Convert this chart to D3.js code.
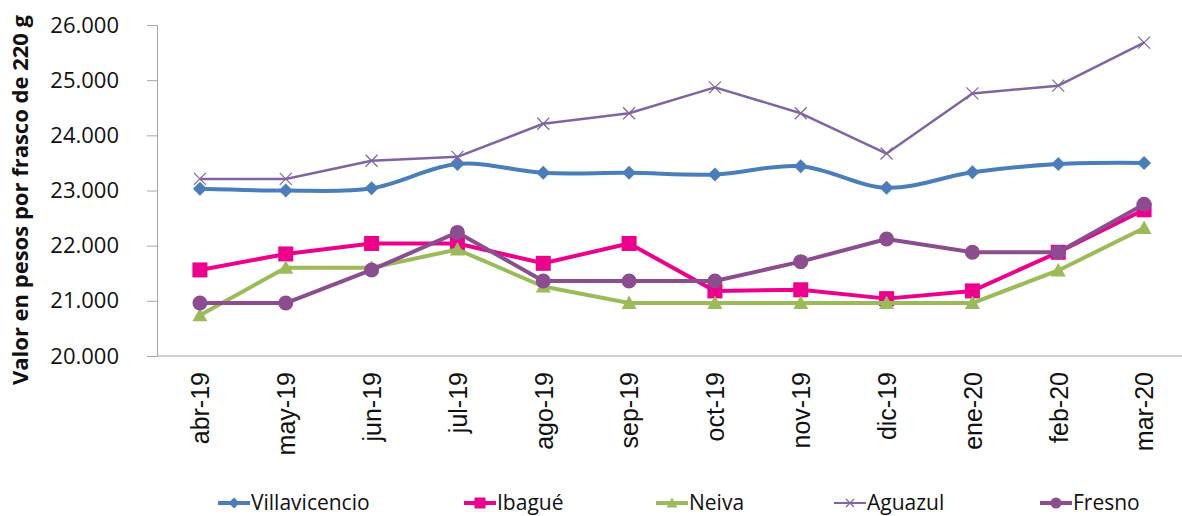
<!DOCTYPE html>
<html>
<head>
<meta charset="utf-8">
<script src="https://cdn.jsdelivr.net/npm/d3@7"></script>
<style>
  body { margin: 0; background: #fff; }
  svg { display: block; font-family: 'Open Sans', 'Noto Sans', sans-serif; }
  .axis path, .axis line { stroke: #a6a6a6; }
</style>
</head>
<body>
<div id="chart"></div>
<script>
const months = ['abr-19', 'may-19', 'jun-19', 'jul-19', 'ago-19', 'sep-19', 'oct-19', 'nov-19', 'dic-19', 'ene-20', 'feb-20', 'mar-20'];
const villavicencio = [23030, 23000, 23040, 23480, 23320, 23320, 23290, 23440, 23050, 23330, 23480, 23500];
const ibague = [21560, 21850, 22040, 22040, 21680, 22040, 21180, 21200, 21040, 21180, 21880, 22650];
const neiva = [20740, 21600, 21600, 21930, 21260, 20960, 20960, 20960, 20960, 20960, 21550, 22320];
const aguazul = [23210, 23210, 23540, 23610, 24210, 24400, 24870, 24400, 23670, 24760, 24900, 25680];
const fresno = [20960, 20960, 21560, 22240, 21360, 21360, 21360, 21710, 22120, 21880, 21880, 22750];
const yTicks = [20000, 21000, 22000, 23000, 24000, 25000, 26000];

const series = [
  { name: 'Villavicencio', values: villavicencio, color: '#4a7ebb', marker: 'diamond', width: 4, smooth: true },
  { name: 'Ibagué', values: ibague, color: '#ec008c', marker: 'square', width: 4 },
  { name: 'Neiva', values: neiva, color: '#9bbb59', marker: 'triangle', width: 4 },
  { name: 'Aguazul', values: aguazul, color: '#8064a2', marker: 'cross', width: 2.5 },
  { name: 'Fresno', values: fresno, color: '#8b4d8f', marker: 'circle', width: 4 }
];

const W = 1182, H = 516;
const plot = { left: 157, right: 1187, top: 25, bottom: 356 };

const svg = d3.select('#chart').append('svg').attr('width', W).attr('height', H);

const x = d3.scalePoint().domain(months).range([plot.left, plot.right]).padding(0.5);
const y = d3.scaleLinear().domain([20000, 26000]).range([plot.bottom, plot.top]);

const fmt = v => d3.format(',.3f')(v / 1000).replace(',', '');

// y axis
const yAxis = svg.append('g')
  .attr('class', 'axis')
  .attr('transform', 'translate(' + plot.left + ',0)')
  .call(d3.axisLeft(y).tickValues(yTicks).tickSize(10).tickSizeOuter(0).tickPadding(28).tickFormat(fmt));
yAxis.selectAll('text').attr('font-size', 22).attr('fill', '#111').attr('font-family', "'Open Sans', sans-serif");

// x axis
const xAxis = svg.append('g')
  .attr('class', 'axis')
  .attr('transform', 'translate(0,' + plot.bottom + ')')
  .call(d3.axisBottom(x).tickSize(0).tickSizeOuter(0));
xAxis.select('.domain').attr('d', 'M' + plot.left + ',0H' + W);
xAxis.selectAll('text')
  .attr('font-size', 25)
  .attr('font-family', "'Liberation Sans', Arial, sans-serif")
  .attr('fill', '#111')
  .attr('text-anchor', 'end')
  .attr('transform', 'rotate(-90)')
  .attr('x', -16)
  .attr('y', 0)
  .attr('dy', '0.35em');

// y title
svg.append('text')
  .attr('transform', 'translate(28,200) rotate(-90)')
  .attr('text-anchor', 'middle')
  .attr('font-size', 22)
  .attr('font-weight', 'bold')
  .attr('fill', '#111')
  .text('Valor en pesos por frasco de 220 g');

function markerPath(type, size) {
  const s = size / 2;
  if (type === 'diamond') return 'M0,' + (-s) + 'L' + s + ',0L0,' + s + 'L' + (-s) + ',0Z';
  if (type === 'square') return 'M' + (-s) + ',' + (-s) + 'h' + size + 'v' + size + 'h' + (-size) + 'Z';
  if (type === 'triangle') return 'M0,' + (-s) + 'L' + s + ',' + (s * 0.8) + 'L' + (-s) + ',' + (s * 0.8) + 'Z';
  if (type === 'circle') return d3.symbol(d3.symbolCircle, Math.PI * s * s)();
  return 'M' + (-s) + ',' + (-s) + 'L' + s + ',' + s + 'M' + (-s) + ',' + s + 'L' + s + ',' + (-s);
}

const markerSize = { diamond: 14, square: 15, triangle: 15, circle: 15, cross: 12 };

series.forEach(function(s) {
  const line = d3.line()
    .x((d, i) => x(months[i]))
    .y(d => y(d))
    .curve(s.smooth ? d3.curveCatmullRom.alpha(0) : d3.curveLinear);

  const g = svg.append('g');
  g.append('path')
    .attr('d', line(s.values))
    .attr('fill', 'none')
    .attr('stroke', s.color)
    .attr('stroke-width', s.width)
    .attr('stroke-linejoin', 'round');

  g.selectAll('path.m')
    .data(s.values)
    .join('path')
    .attr('class', 'm')
    .attr('transform', (d, i) => 'translate(' + x(months[i]) + ',' + y(d) + ')')
    .attr('d', markerPath(s.marker, markerSize[s.marker]))
    .attr('fill', s.marker === 'cross' ? 'none' : s.color)
    .attr('stroke', s.color)
    .attr('stroke-width', s.marker === 'cross' ? 1.2 : 0);
});

// legend
const legendX = [218, 464, 656, 834, 1040];
const legendY = 503;
const legend = svg.append('g');
series.forEach(function(s, i) {
  const g = legend.append('g').attr('transform', 'translate(' + legendX[i] + ',' + legendY + ')');
  g.append('line')
    .attr('x1', 0).attr('x2', 32)
    .attr('stroke', s.color)
    .attr('stroke-width', s.marker === 'cross' ? 2 : 4);
  g.append('path')
    .attr('transform', 'translate(16,0)')
    .attr('d', markerPath(s.marker, s.marker === 'cross' ? 8 : 11))
    .attr('fill', s.marker === 'cross' ? 'none' : s.color)
    .attr('stroke', s.color)
    .attr('stroke-width', s.marker === 'cross' ? 1.2 : 0);
  g.append('text')
    .attr('x', 33)
    .attr('dy', '0.35em')
    .attr('font-size', 21)
    .attr('fill', '#111')
    .text(s.name);
});
</script>
</body>
</html>
